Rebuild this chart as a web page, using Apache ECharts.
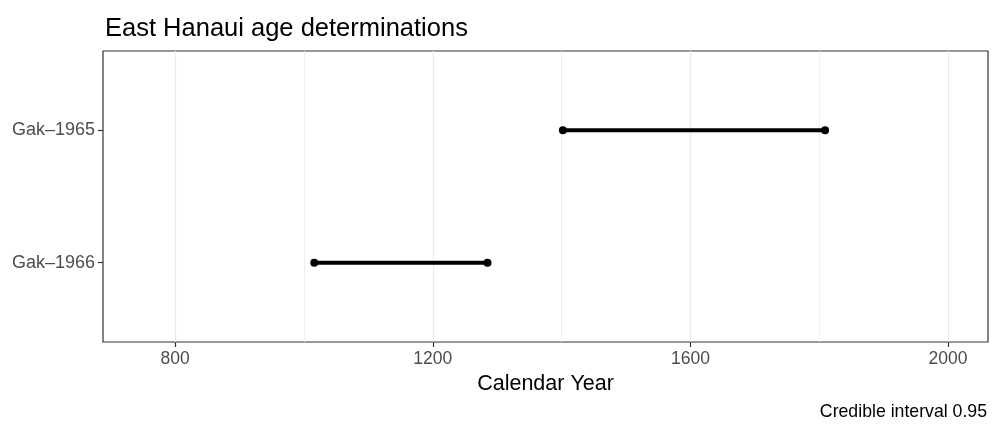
<!DOCTYPE html>
<html>
<head>
<meta charset="utf-8">
<script src="https://cdn.jsdelivr.net/npm/echarts@6/dist/echarts.min.js"></script>
<style>html,body{margin:0;padding:0;background:#fff}#c{width:992px;height:427px}</style>
</head>
<body>
<div id="c"></div>
<script>
// Data
var labels = ['Gak\u20131965', 'Gak\u20131966'];
var yPos = [2, 1];
var lower = [1402, 1016];
var upper = [1809, 1285];
var majorTicks = [800, 1200, 1600, 2000];
var minorTicks = [1000, 1400, 1800];

var chart = echarts.init(document.getElementById('c'));
var FONT = 'Liberation Sans, Arial, sans-serif';

var series = labels.map(function (name, i) {
  return {
    type: 'line',
    name: name,
    data: [[lower[i], yPos[i]], [upper[i], yPos[i]]],
    symbol: 'circle',
    symbolSize: 8,
    showSymbol: true,
    itemStyle: { color: '#000' },
    lineStyle: { color: '#000', width: 4 },
    silent: true,
    z: 5
  };
});

series.push({
  type: 'line',
  data: [],
  silent: true,
  markLine: {
    silent: true,
    symbol: 'none',
    label: { show: false },
    data: minorTicks.map(function (v) { return { xAxis: v, lineStyle: { color: '#EBEBEB', width: 0.8, type: 'solid' } }; })
      .concat(majorTicks.map(function (v) { return { xAxis: v, lineStyle: { color: '#EBEBEB', width: 1.2, type: 'solid' } }; }))
  },
  z: 1
});

chart.setOption({
  animation: false,
  title: [
    { text: 'East Hanaui age determinations', left: 100, top: 11,
      textStyle: { fontFamily: FONT, fontSize: 25.5, fontWeight: 'normal', color: '#000' } },
    { text: 'Credible interval 0.95', right: 0, top: 398,
      textStyle: { fontFamily: FONT, fontSize: 17.7, fontWeight: 'normal', color: '#000' } }
  ],
  grid: { left: 103, right: 4, top: 51, bottom: 85, show: true, borderColor: '#333', borderWidth: 1.2, backgroundColor: 'transparent' },
  xAxis: {
    type: 'value', min: 688, max: 2062,
    name: 'Calendar Year', nameLocation: 'middle', nameGap: 29,
    nameTextStyle: { fontFamily: FONT, fontSize: 21.5, color: '#000' },
    axisLine: { show: false },
    axisTick: { show: true, customValues: majorTicks, length: 5, lineStyle: { color: '#333', width: 1.2 } },
    axisLabel: { customValues: majorTicks, fontFamily: FONT, fontSize: 17.5, color: '#4D4D4D', margin: 8.5,
      formatter: function (v) { return String(v); } },
    splitLine: { show: false }
  },
  yAxis: {
    type: 'value', min: 0.4, max: 2.6,
    axisLine: { show: false },
    axisTick: { show: true, customValues: yPos, length: 5, lineStyle: { color: '#333', width: 1.2 } },
    axisLabel: { customValues: yPos, fontFamily: FONT, fontSize: 18, color: '#4D4D4D', margin: 8,
      formatter: function (v) { var i = yPos.indexOf(v); return i >= 0 ? labels[i] : ''; } },
    splitLine: { show: false }
  },
  series: series
});
</script>
</body>
</html>
